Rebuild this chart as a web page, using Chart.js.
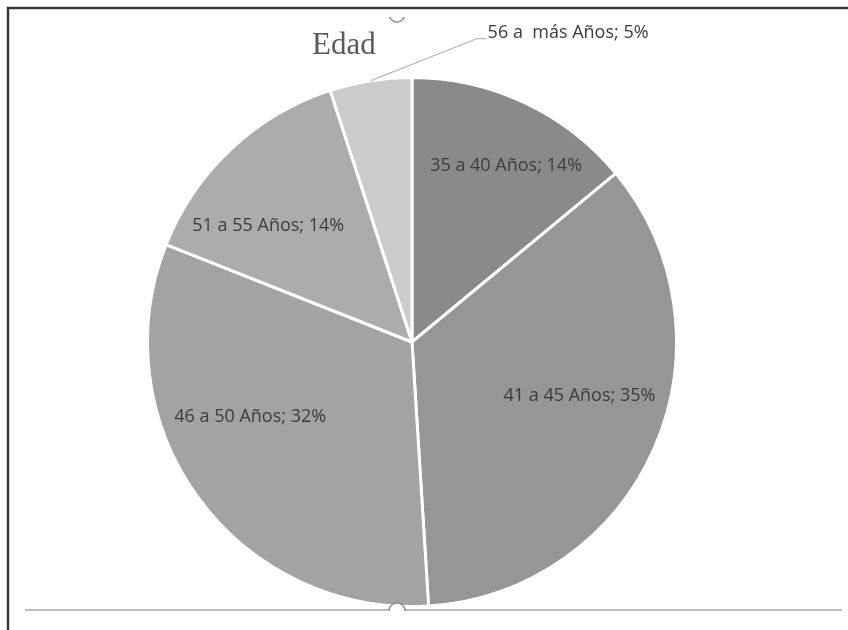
<!DOCTYPE html>
<html>
<head>
<meta charset="utf-8">
<script src="https://cdn.jsdelivr.net/npm/chart.js@4/dist/chart.umd.min.js"></script>
<style>
  html, body { margin: 0; padding: 0; background: #ffffff; }
  #wrap { width: 848px; height: 630px; position: relative; }
</style>
</head>
<body>
<div id="wrap"><canvas id="c" width="848" height="630"></canvas></div>
<script>
// Age groups and their share of respondents (%)
const categories = ['35 a 40 Años', '41 a 45 Años', '46 a 50 Años', '51 a 55 Años', '56 a  más Años'];
const shares = [14, 35, 32, 14, 5];
const chartTitle = 'Edad';

// Appearance
const sliceColors = ['#8a8a8a', '#969696', '#a3a3a3', '#acacac', '#cbcbcb'];
const labelFont = '18px "Open Sans", "Noto Sans", sans-serif';
const labelColor = '#3c3c3c';
// label placement: radius fraction along the slice bisector plus a small nudge
const labelPlace = [
  { inside: true, frac: 0.72, dx: 13, dy: -4 },
  { inside: true, frac: 0.665, dx: 6, dy: -16 },
  { inside: true, frac: 0.672, dx: -18, dy: -30 },
  { inside: true, frac: 0.70, dx: -17, dy: 19 },
  { inside: false, elbowDx: 106, elbowDy: -42, tail: 10 }
];

const decorPlugin = {
  id: 'decor',
  beforeDraw(chart) {
    const ctx = chart.ctx;
    ctx.save();
    ctx.fillStyle = '#ffffff';
    ctx.fillRect(0, 0, chart.width, chart.height);
    // outer frame (top and left edges)
    ctx.strokeStyle = '#3a3a3a';
    ctx.lineWidth = 2.5;
    ctx.beginPath();
    ctx.moveTo(8, chart.height);
    ctx.lineTo(8, 8);
    ctx.lineTo(chart.width, 8);
    ctx.stroke();
    ctx.restore();
  },
  afterDatasetsDraw(chart) {
    const ctx = chart.ctx;
    const meta = chart.getDatasetMeta(0);
    ctx.save();
    ctx.font = labelFont;
    ctx.fillStyle = labelColor;
    ctx.textBaseline = 'middle';
    meta.data.forEach((arc, i) => {
      const p = arc.getProps(['x', 'y', 'startAngle', 'endAngle', 'outerRadius'], true);
      const mid = (p.startAngle + p.endAngle) / 2;
      const text = categories[i] + '; ' + shares[i] + '%';
      const place = labelPlace[i];
      if (place.inside) {
        const r = p.outerRadius * place.frac;
        const lx = p.x + Math.cos(mid) * r + place.dx;
        const ly = p.y + Math.sin(mid) * r + place.dy;
        ctx.textAlign = 'center';
        ctx.fillText(text, lx, ly);
      } else {
        // leader line from the slice edge to a label outside the pie
        const ex = p.x + Math.cos(mid) * p.outerRadius;
        const ey = p.y + Math.sin(mid) * p.outerRadius;
        const kx = ex + place.elbowDx;
        const ky = ey + place.elbowDy;
        ctx.strokeStyle = '#a6a6a6';
        ctx.lineWidth = 1;
        ctx.beginPath();
        ctx.moveTo(ex, ey);
        ctx.lineTo(kx, ky);
        ctx.lineTo(kx + place.tail, ky);
        ctx.stroke();
        ctx.textAlign = 'left';
        ctx.fillText(text, kx + place.tail + 1, ky - 6);
      }
    });
    ctx.restore();
  },
  afterDraw(chart) {
    const ctx = chart.ctx;
    ctx.save();
    // title
    ctx.font = '31px "Liberation Serif", "DejaVu Serif", serif';
    ctx.fillStyle = '#595959';
    ctx.textAlign = 'left';
    ctx.textBaseline = 'alphabetic';
    ctx.fillText(chartTitle, 312, 54);
    // plot-area bottom rule
    ctx.strokeStyle = '#bdbdbd';
    ctx.lineWidth = 2;
    ctx.beginPath();
    ctx.moveTo(25, 610);
    ctx.lineTo(842, 610);
    ctx.stroke();
    // selection handles
    ctx.strokeStyle = '#8c8c8c';
    ctx.lineWidth = 1.5;
    ctx.beginPath();
    ctx.arc(397, 14, 8, 0.12 * Math.PI, 0.88 * Math.PI);
    ctx.stroke();
    ctx.fillStyle = '#ffffff';
    ctx.beginPath();
    ctx.arc(397, 611, 8, Math.PI, 2 * Math.PI);
    ctx.closePath();
    ctx.fill();
    ctx.beginPath();
    ctx.arc(397, 611, 8, Math.PI, 2 * Math.PI);
    ctx.stroke();
    ctx.restore();
  }
};

new Chart(document.getElementById('c'), {
  type: 'pie',
  data: {
    labels: categories,
    datasets: [{
      data: shares,
      backgroundColor: sliceColors,
      borderColor: '#ffffff',
      borderWidth: 3
    }]
  },
  options: {
    responsive: false,
    animation: false,
    layout: { padding: { left: 146, right: 170, top: 76, bottom: 22 } },
    plugins: {
      legend: { display: false },
      tooltip: { enabled: false },
      title: { display: false }
    }
  },
  plugins: [decorPlugin]
});
</script>
</body>
</html>
